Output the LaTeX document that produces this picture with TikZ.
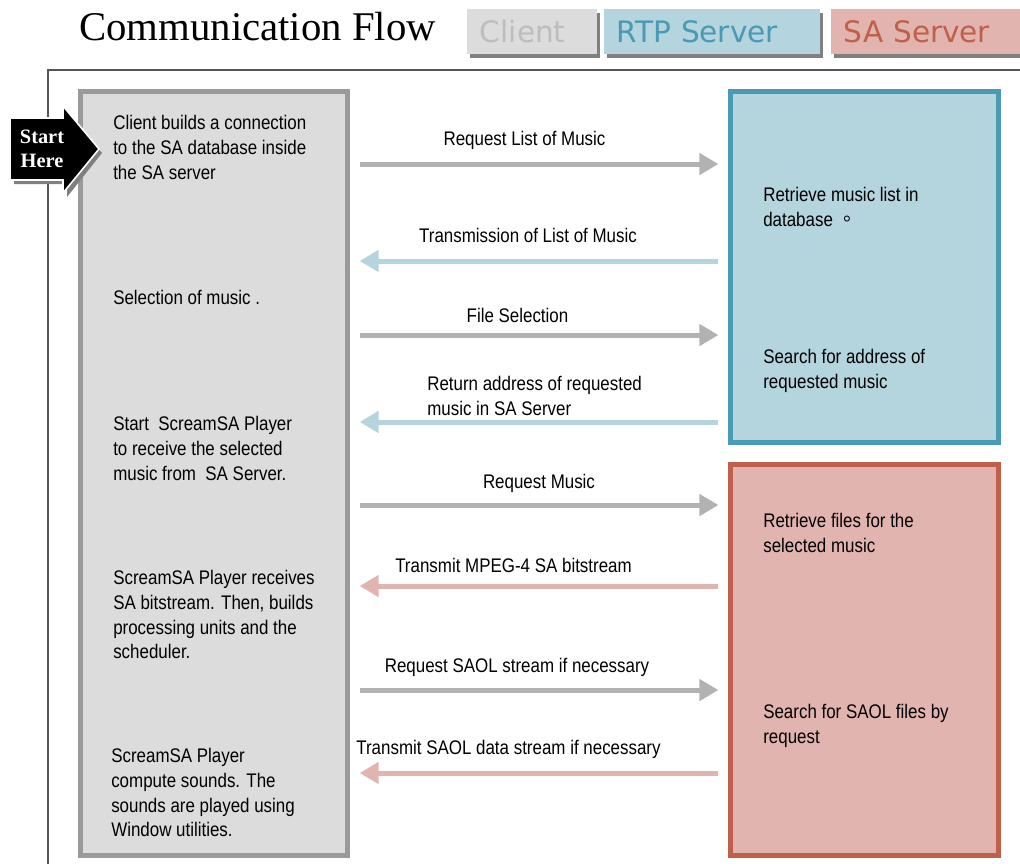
\documentclass[tikz,border=0pt]{standalone}
\usepackage{fontspec}
\usepackage{tikz}
\usetikzlibrary{arrows.meta,shadows}

\newfontfamily\narrowsans[FakeStretch=0.86]{Liberation Sans}
\newfontfamily\keysans{DejaVu Sans}
\newfontfamily\titleserif{Liberation Serif}
\newfontfamily\cjkfont{Noto Sans CJK TC}

\definecolor{clientfill}{HTML}{DCDCDC}
\definecolor{clientline}{HTML}{9A9A9A}
\definecolor{clientink}{HTML}{BDBDBD}
\definecolor{rtpfill}{HTML}{B4D4DE}
\definecolor{rtpline}{HTML}{4A9AB5}
\definecolor{safill}{HTML}{E2B4B0}
\definecolor{saline}{HTML}{C0604A}
\definecolor{arrowgray}{HTML}{B2B2B2}
\definecolor{framegray}{HTML}{555555}
\definecolor{keyshadow}{HTML}{808080}

\begin{document}
\begin{tikzpicture}[x=0.025cm,y=-0.025cm,
  body/.style={font=\narrowsans\fontsize{14}{17.6}\selectfont,align=left,inner sep=0pt},
  client text/.style={body,anchor=north west},
  msg/.style={body,anchor=base},
  client node/.style={rectangle,draw=clientline,fill=clientfill,line width=0.125cm,
    minimum width=6.675cm,minimum height=19.1cm,inner sep=0pt},
  rtp node/.style={rectangle,draw=rtpline,fill=rtpfill,line width=0.125cm,
    minimum width=6.7cm,minimum height=8.775cm,inner sep=0pt},
  sa node/.style={rectangle,draw=saline,fill=safill,line width=0.125cm,
    minimum width=6.7cm,minimum height=9.775cm,inner sep=0pt},
  key node/.style={rectangle,font=\keysans\fontsize{21}{25}\selectfont,align=left,
    minimum height=1.125cm,inner xsep=0.325cm,inner ysep=0pt,
    drop shadow={shadow xshift=0.075cm,shadow yshift=-0.1cm,fill=keyshadow,opacity=1}},
  to server/.style={-{Triangle[length=0.475cm,width=0.525cm]},line width=0.125cm,
    draw=arrowgray,shorten <=0.26cm,shorten >=0.24cm},
  from rtp/.style={to server,draw=rtpfill},
  from sa/.style={to server,draw=safill}]

  \useasboundingbox (0,0) rectangle (1020,863);

  % heading and colour key
  \node[anchor=base west,inner sep=0pt,font=\titleserif\fontsize{29}{34}\selectfont]
    (title) at (79,40) {Communication Flow};
  \node[key node,fill=clientfill,text=clientink,text width=2.6cm] (keyclient) at (532,31.5) {Client};
  \node[key node,fill=rtpfill,text=rtpline,text width=4.75cm] (keyrtp) at (712,31.5) {RTP Server};
  \node[key node,fill=safill,text=saline,text width=4.35cm] (keysa) at (931,31.5) {SA Server};

  \draw[framegray,line width=0.05cm] (48,870) -- (48,70) -- (1030,70);

  % the three parties
  \node[client node] (client) at (214,473.5) {};
  \node[rtp node] (rtp) at (864.5,267) {};
  \node[sa node] (sa) at (864.5,660) {};

  % start marker
  \fill[keyshadow] (14,123) -- (67,123) -- (67,112) -- (102,153) -- (67,197) -- (67,184) -- (14,184) -- cycle;
  \filldraw[fill=black,draw=white,line width=0.04cm]
    (10,118) -- (63,118) -- (63,106) -- (99,149) -- (63,193) -- (63,180) -- (10,180) -- cycle;
  \node[align=center,inner sep=0pt,text=white,
    font=\titleserif\bfseries\fontsize{14.5}{17}\selectfont] (start) at (42,149) {Start\\Here};

  % client steps
  \node[client text] (c1) at (113,115) {Client builds a connection\\to the SA database inside\\the SA server};
  \node[client text] (c2) at (113,290) {Selection of music .};
  \node[client text] (c3) at (113,416) {Start\ \ ScreamSA Player\\to receive the selected\\music from\ \ SA Server.};
  \node[client text] (c4) at (113,570) {ScreamSA Player receives\\SA bitstream. Then, builds\\processing units and the\\scheduler.};
  \node[client text] (c5) at (111,748) {ScreamSA Player\\compute sounds. The\\sounds are played using\\Window utilities.};

  % server steps
  \node[client text] (r1) at (763,187) {Retrieve music list in\\database\ {\cjkfont 。}};
  \node[client text] (r2) at (763,349) {Search for address of\\requested music};
  \node[client text] (s1) at (763,513) {Retrieve files for the\\selected music};
  \node[client text] (s2) at (763,704) {Search for SAOL files by\\request};

  % message rows
  \foreach \n/\y in {1/164,2/261,3/335,4/422,5/505,6/586,7/690,8/773}
    \coordinate (row\n) at (0,\y);

  \draw[to server] (client.east |- row1) -- (rtp.west |- row1);
  \draw[from rtp] (rtp.west |- row2) -- (client.east |- row2);
  \draw[to server] (client.east |- row3) -- (rtp.west |- row3);
  \draw[from rtp] (rtp.west |- row4) -- (client.east |- row4);
  \draw[to server] (client.east |- row5) -- (sa.west |- row5);
  \draw[from sa] (sa.west |- row6) -- (client.east |- row6);
  \draw[to server] (client.east |- row7) -- (sa.west |- row7);
  \draw[from sa] (sa.west |- row8) -- (client.east |- row8);

  \node[msg] (m1) at (524.5,145) {Request List of Music};
  \node[msg] (m2) at (528,242) {Transmission of List of Music};
  \node[msg] (m3) at (517.5,322) {File Selection};
  \node[client text] (m4) at (427,376) {Return address of requested\\music in SA Server};
  \node[msg] (m5) at (539,488) {Request Music};
  \node[msg] (m6) at (513.5,572) {Transmit MPEG-4 SA bitstream};
  \node[msg] (m7) at (517,672) {Request SAOL stream if necessary};
  \node[msg] (m8) at (508.5,754) {Transmit SAOL data stream if necessary};

\end{tikzpicture}
\end{document}
